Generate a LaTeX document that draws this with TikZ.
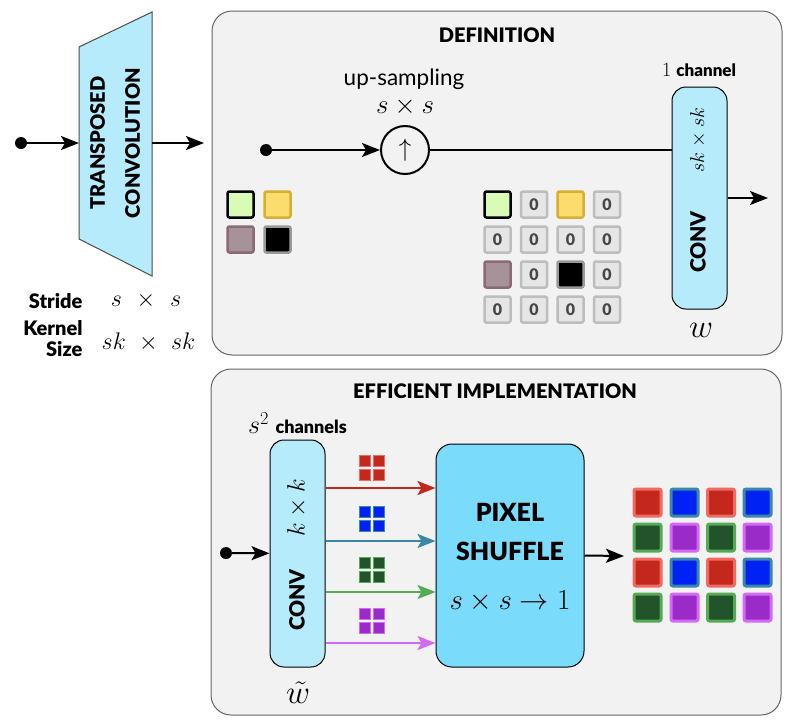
\RequirePackage{fix-cm}
\documentclass[tikz,border=0pt]{standalone}
\usepackage[no-math]{fontspec}
\setmainfont{Lato}[BoldFont={Lato Black}]
\usetikzlibrary{arrows.meta}
\newcommand{\fsz}[2]{\fontsize{#1}{#2}\selectfont}
\definecolor{panelfill}{HTML}{F2F2F2}
\definecolor{paneldraw}{HTML}{666666}
\definecolor{convblue}{HTML}{B5EBFA}
\definecolor{shufflecyan}{HTML}{7ADCFA}
\definecolor{lgreen}{HTML}{D8FBB5}
\definecolor{lyellow}{HTML}{FBDD6E}
\definecolor{dyellow}{HTML}{D8AE30}
\definecolor{lmauve}{HTML}{A8929A}
\definecolor{dmauve}{HTML}{8A6A76}
\definecolor{zerofill}{HTML}{E6E6E6}
\definecolor{zerodraw}{HTML}{BDBDBD}
\definecolor{redfill}{HTML}{C4281C}
\definecolor{reddraw}{HTML}{EE6A63}
\definecolor{bluefill}{HTML}{0022F5}
\definecolor{bluedraw}{HTML}{3A87A8}
\definecolor{greenfill}{HTML}{22532A}
\definecolor{greendraw}{HTML}{55AA55}
\definecolor{purplefill}{HTML}{9B2BC8}
\definecolor{purpledraw}{HTML}{D26AF5}

\begin{document}
\begin{tikzpicture}[x=1pt,y=-1pt,
    panel/.style={draw=paneldraw, fill=panelfill, line width=1pt, rounded corners=20pt},
    flow/.style={line width=2pt, -{Stealth[length=18pt,width=14pt,inset=4pt]}},
    cflow/.style={line width=2.5pt, -{Stealth[length=18pt,width=14pt,inset=4pt]}},
    indot/.style={circle, fill=black, inner sep=0pt, minimum size=12pt},
    paneltitle/.style={font=\bfseries\fsz{20}{24}},
    convbox/.style={draw=black, fill=convblue, line width=1pt, rounded corners=14pt, minimum width=55pt, inner sep=0pt},
    pix/.style={minimum size=26pt, rounded corners=2pt, line width=2.5pt, inner sep=0pt},
    zero/.style={pix, draw=zerodraw, fill=zerofill, text=black!72, font=\bfseries\fsz{16}{16}},
    outpix/.style={pix, minimum size=27pt, line width=3pt},
    mini/.style={minimum size=10.5pt, line width=1pt, inner sep=0pt}]
    \useasboundingbox (0,0) rectangle (790,724);

    \draw[panel] (212,11) rectangle (782,355);
    \draw[panel] (211,369) rectangle (781,715);

    \draw[draw=black!70, fill=convblue, line width=1pt] (79,47) -- (152,12) -- (152,276) -- (79,239) -- cycle;
    \node[rotate=90, align=center, font=\bfseries\fsz{20}{35}] (tconv) at (115,143) {TRANSPOSED\\CONVOLUTION};
    \node[indot] (tin) at (21,143) {};
    \coordinate (tleft) at (79,143);
    \coordinate (tright) at (152,143);
    \coordinate (tout) at (204,143);
    \draw[flow] (tin) -- (tleft);
    \draw[flow] (tright) -- (tout);
    \node[anchor=east, font=\bfseries\fsz{20}{20}] (stride) at (86,301) {Stride};
    \node[font=\fsz{24}{24}] (strideval) at (146,300) {$s\mkern7mu\times\mkern7mu s$};
    \node[anchor=east, align=right, font=\bfseries\fsz{20}{21}] (kernel) at (86,339) {Kernel\\Size};
    \node[font=\fsz{24}{24}] (kernelval) at (148.5,342) {$sk\mkern6mu\times\mkern6mu sk$};

    \node[paneltitle] (deftitle) at (497,35) {DEFINITION};
    \node[inner sep=0pt, font=\fsz{22.5}{22.5}] (uplabel) at (404,79) {up-sampling};
    \node[inner sep=0pt, font=\fsz{27}{27}] (upsize) at (405,107) {$s\times s$};
    \node[indot] (din) at (266,150) {};
    \node[draw, circle, line width=2pt, minimum size=48pt, inner sep=0pt, font=\fsz{25}{25}] (up) at (405,150) {$\uparrow$};
    \node[convbox, minimum height=222pt] (conv1) at (699.5,198) {};
    \node[rotate=90, font=\fsz{20}{20}] (conv1k) at (698,140) {$sk\times sk$};
    \node[rotate=90, font=\bfseries\fsz{21}{21}] (conv1t) at (698,242) {CONV};
    \node (ch1) at (699,70) {\fsz{20}{20}$1$ \bfseries\fsz{17}{17}channel};
    \node[font=\fsz{33}{33}] (wlab) at (701,330) {$w$};
    \coordinate (out1) at (768,198);
    \draw[flow] (din) -- (up);
    \draw[line width=2pt] (up) -- (up -| conv1.west);
    \draw[flow] (conv1.east) -- (out1);

    \node[pix, draw=black, fill=lgreen] (a11) at (240.5,204.5) {};
    \node[pix, draw=dyellow, fill=lyellow] (a12) at (277.5,204.5) {};
    \node[pix, draw=dmauve, fill=lmauve] (a21) at (240.5,239.5) {};
    \node[pix, draw=black!40, fill=black] (a22) at (277.5,239.5) {};

    \node[pix, draw=black, fill=lgreen] (u11) at (497.5,204.5) {};
    \node[zero] (u12) at (534,204.5) {0};
    \node[pix, draw=dyellow, fill=lyellow] (u13) at (570.5,204.5) {};
    \node[zero] (u14) at (607,204.5) {0};
    \node[zero] (u21) at (497.5,239.5) {0};
    \node[zero] (u22) at (534,239.5) {0};
    \node[zero] (u23) at (570.5,239.5) {0};
    \node[zero] (u24) at (607,239.5) {0};
    \node[pix, draw=dmauve, fill=lmauve] (u31) at (497.5,274.5) {};
    \node[zero] (u32) at (534,274.5) {0};
    \node[pix, draw=black!40, fill=black] (u33) at (570.5,274.5) {};
    \node[zero] (u34) at (607,274.5) {0};
    \node[zero] (u41) at (497.5,309.5) {0};
    \node[zero] (u42) at (534,309.5) {0};
    \node[zero] (u43) at (570.5,309.5) {0};
    \node[zero] (u44) at (607,309.5) {0};

    \node[paneltitle] (efftitle) at (495,391) {EFFICIENT IMPLEMENTATION};
    \node (ch2) at (297.5,423) {\fsz{26}{26}$s^2$ \bfseries\fsz{18}{18}channels};
    \node[indot] (ein) at (226,553) {};
    \node[convbox, minimum height=227pt] (conv2) at (297.5,553.5) {};
    \node[rotate=90, font=\fsz{25}{25}] (conv2k) at (297,508) {$k\times k$};
    \node[rotate=90, font=\bfseries\fsz{21}{21}] (conv2t) at (297,600) {CONV};
    \node[inner sep=0pt, font=\fsz{33}{33}] (wtlab) at (298,693) {$\tilde{w}$};
    \node[draw=black, fill=shufflecyan, line width=1pt, rounded corners=16pt, minimum width=148pt, minimum height=223pt] (shuffle) at (510,555.5) {};
    \node[align=center, font=\bfseries\fsz{25}{39}] (shuffletxt) at (510,532) {PIXEL\\SHUFFLE};
    \node[font=\fsz{29}{29}] (shufflemap) at (510,601) {$s\times s\to 1$};
    \coordinate (out2) at (624,556);
    \draw[flow] (ein) -- (conv2);
    \draw[cflow, redfill] ([yshift=65.5pt]conv2.east) -- ([yshift=67.5pt]shuffle.west);
    \draw[cflow, bluedraw] ([yshift=12.5pt]conv2.east) -- ([yshift=14.5pt]shuffle.west);
    \draw[cflow, greendraw] ([yshift=-38.5pt]conv2.east) -- ([yshift=-36.5pt]shuffle.west);
    \draw[cflow, purpledraw] ([yshift=-89.5pt]conv2.east) -- ([yshift=-87.5pt]shuffle.west);
    \draw[flow] (shuffle.east) -- (out2);

    \node[mini, draw=reddraw, fill=redfill] (r1) at (365,461) {};
    \node[mini, draw=reddraw, fill=redfill] (r2) at (379,461) {};
    \node[mini, draw=reddraw, fill=redfill] (r3) at (365,475) {};
    \node[mini, draw=reddraw, fill=redfill] (r4) at (379,475) {};
    \node[mini, draw=bluedraw, fill=bluefill] (b1) at (365,512) {};
    \node[mini, draw=bluedraw, fill=bluefill] (b2) at (379,512) {};
    \node[mini, draw=bluedraw, fill=bluefill] (b3) at (365,526) {};
    \node[mini, draw=bluedraw, fill=bluefill] (b4) at (379,526) {};
    \node[mini, draw=greendraw, fill=greenfill] (g1) at (365,563) {};
    \node[mini, draw=greendraw, fill=greenfill] (g2) at (379,563) {};
    \node[mini, draw=greendraw, fill=greenfill] (g3) at (365,577) {};
    \node[mini, draw=greendraw, fill=greenfill] (g4) at (379,577) {};
    \node[mini, draw=purpledraw, fill=purplefill] (p1) at (365,614) {};
    \node[mini, draw=purpledraw, fill=purplefill] (p2) at (379,614) {};
    \node[mini, draw=purpledraw, fill=purplefill] (p3) at (365,628) {};
    \node[mini, draw=purpledraw, fill=purplefill] (p4) at (379,628) {};

    \node[outpix, draw=reddraw, fill=redfill] (o11) at (647.5,502.5) {};
    \node[outpix, draw=bluedraw, fill=bluefill] (o12) at (684.5,502.5) {};
    \node[outpix, draw=reddraw, fill=redfill] (o13) at (721,502.5) {};
    \node[outpix, draw=bluedraw, fill=bluefill] (o14) at (757.5,502.5) {};
    \node[outpix, draw=greendraw, fill=greenfill] (o21) at (647.5,537.5) {};
    \node[outpix, draw=purpledraw, fill=purplefill] (o22) at (684.5,537.5) {};
    \node[outpix, draw=greendraw, fill=greenfill] (o23) at (721,537.5) {};
    \node[outpix, draw=purpledraw, fill=purplefill] (o24) at (757.5,537.5) {};
    \node[outpix, draw=reddraw, fill=redfill] (o31) at (647.5,572.5) {};
    \node[outpix, draw=bluedraw, fill=bluefill] (o32) at (684.5,572.5) {};
    \node[outpix, draw=reddraw, fill=redfill] (o33) at (721,572.5) {};
    \node[outpix, draw=bluedraw, fill=bluefill] (o34) at (757.5,572.5) {};
    \node[outpix, draw=greendraw, fill=greenfill] (o41) at (647.5,607.5) {};
    \node[outpix, draw=purpledraw, fill=purplefill] (o42) at (684.5,607.5) {};
    \node[outpix, draw=greendraw, fill=greenfill] (o43) at (721,607.5) {};
    \node[outpix, draw=purpledraw, fill=purplefill] (o44) at (757.5,607.5) {};
\end{tikzpicture}
\end{document}
